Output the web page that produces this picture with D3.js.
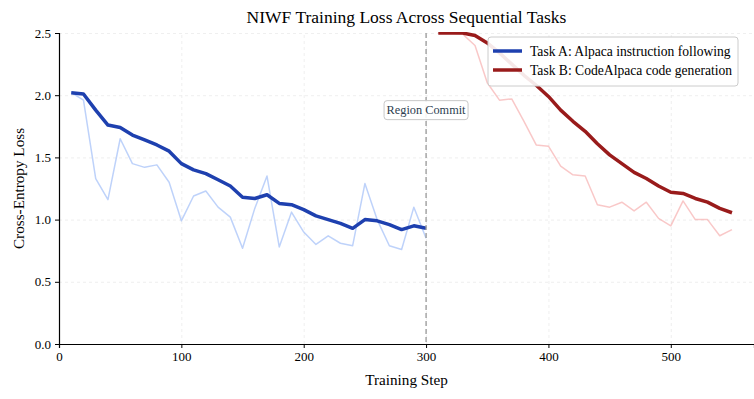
<!DOCTYPE html>
<html>
<head>
<meta charset="utf-8">
<script src="https://cdn.jsdelivr.net/npm/d3@7"></script>
<style>
  body { margin: 0; background: #fff; }
  text { font-family: "Liberation Serif", "Times New Roman", serif; }
  .grid line { stroke: #ebebeb; stroke-dasharray: 3,3; stroke-width: 0.8; }
  .grid path { display: none; }
</style>
</head>
<body>
<div id="chart"></div>
<script>
// 1: DATA
const stepsA = [10, 20, 30, 40, 50, 60, 70, 80, 90, 100, 110, 120, 130, 140, 150,
    160, 170, 180, 190, 200, 210, 220, 230, 240, 250, 260, 270, 280, 290, 300];
const rawA = [2.02, 1.96, 1.33, 1.16, 1.65, 1.45, 1.42, 1.44, 1.30, 0.99, 1.19, 1.23, 1.10, 1.02, 0.77,
    1.09, 1.35, 0.78, 1.06, 0.90, 0.80, 0.87, 0.81, 0.79, 1.29, 1.00, 0.79, 0.76, 1.10, 0.85];
const smoothA = [2.02, 2.01, 1.88, 1.76, 1.74, 1.68, 1.64, 1.60, 1.55, 1.45, 1.40, 1.37, 1.32, 1.27, 1.18,
    1.17, 1.20, 1.13, 1.12, 1.08, 1.03, 1.00, 0.97, 0.93, 1.00, 0.99, 0.96, 0.92, 0.95, 0.93];

const stepsB = [310, 320, 330, 340, 350, 360, 370, 380, 390, 400, 410, 420, 430,
    440, 450, 460, 470, 480, 490, 500, 510, 520, 530, 540, 550];
const rawB = [2.5, 2.5, 2.49, 2.40, 2.10, 1.96, 1.97, 1.79, 1.60, 1.59, 1.43, 1.36, 1.35,
    1.12, 1.10, 1.14, 1.07, 1.14, 1.01, 0.95, 1.15, 1.00, 1.00, 0.87, 0.92];
const smoothB = [2.5, 2.5, 2.5, 2.48, 2.42, 2.34, 2.25, 2.16, 2.08, 1.99, 1.88, 1.79, 1.71,
    1.61, 1.52, 1.45, 1.38, 1.33, 1.27, 1.22, 1.21, 1.17, 1.14, 1.09, 1.055];

const xTicks = [0, 100, 200, 300, 400, 500];
const yTicks = [0.0, 0.5, 1.0, 1.5, 2.0, 2.5];
const legendLabels = ["Task A: Alpaca instruction following", "Task B: CodeAlpaca code generation"];
const commitStep = 300;
const commitLabelY = 1.88;

// 2: SETUP
const margin = { top: 33, right: 0, bottom: 55, left: 59 };
const width = 754 - margin.left - margin.right;
const height = 399 - margin.top - margin.bottom;

const colA = "#1e40af", colARaw = "#93b4f7";
const colB = "#991b1b", colBRaw = "#f5a3a3";

const svg = d3.select("#chart")
    .append("svg")
    .attr("width", 754)
    .attr("height", 399)
    .append("g")
    .attr("transform", `translate(${margin.left},${margin.top})`);

svg.append("defs").append("clipPath")
    .attr("id", "clip")
    .append("rect")
    .attr("x", 0).attr("y", -1)
    .attr("width", width).attr("height", height + 1);

const x = d3.scaleLinear().domain([0, 568]).range([0, width]);
const y = d3.scaleLinear().domain([0, 2.5]).range([height, 0]);

// 3: GRID
svg.append("g")
    .attr("class", "grid")
    .attr("transform", `translate(0,${height})`)
    .call(d3.axisBottom(x).tickValues(xTicks).tickSize(-height).tickFormat(""));
svg.append("g")
    .attr("class", "grid")
    .call(d3.axisLeft(y).tickValues(yTicks).tickSize(-width).tickFormat(""));

// 4: LINES
const line = d3.line()
    .x(d => x(d[0]))
    .y(d => y(d[1]));

const plot = svg.append("g").attr("clip-path", "url(#clip)");

function drawSeries(steps, vals, color, w, op) {
    plot.append("path")
        .datum(steps.map((s, i) => [s, vals[i]]))
        .attr("d", line)
        .attr("fill", "none")
        .attr("stroke", color)
        .attr("stroke-width", w)
        .attr("stroke-opacity", op)
        .attr("stroke-linejoin", "round");
}
drawSeries(stepsA, rawA, colARaw, 1.5, 0.6);
drawSeries(stepsB, rawB, colBRaw, 1.5, 0.6);
drawSeries(stepsA, smoothA, colA, 3.5, 1);
drawSeries(stepsB, smoothB, colB, 3.5, 1);

// commit line
svg.append("line")
    .attr("x1", x(commitStep)).attr("x2", x(commitStep))
    .attr("y1", 0).attr("y2", height)
    .attr("stroke", "#999")
    .attr("stroke-width", 1.3)
    .attr("stroke-dasharray", "5,3");

// 5: AXES
const xAxis = svg.append("g")
    .attr("transform", `translate(0,${height})`)
    .call(d3.axisBottom(x).tickValues(xTicks).tickSize(4).tickPadding(4).tickFormat(d3.format("d")));
const yAxis = svg.append("g")
    .call(d3.axisLeft(y).tickValues(yTicks).tickSize(4).tickPadding(4).tickFormat(d3.format(".1f")));
[xAxis, yAxis].forEach(a => {
    a.selectAll("text").style("font-size", "13px").attr("fill", "#000");
    a.selectAll("line").attr("stroke", "#000");
    a.select(".domain").attr("stroke", "#000").attr("stroke-width", 1.2);
});

// annotation
const ann = svg.append("g")
    .attr("transform", `translate(${x(commitStep)},${y(commitLabelY)})`);
ann.append("rect")
    .attr("x", -42).attr("y", -9.5)
    .attr("width", 84).attr("height", 19)
    .attr("rx", 3)
    .attr("fill", "#fff")
    .attr("fill-opacity", 0.9)
    .attr("stroke", "#c8c8c8");
ann.append("text")
    .attr("text-anchor", "middle")
    .attr("dy", "0.35em")
    .style("font-size", "12.3px")
    .attr("fill", "#2c3e50")
    .text("Region Commit");

// 6: LABELS
svg.append("text")
    .attr("text-anchor", "middle")
    .attr("x", width / 2)
    .attr("y", -10)
    .style("font-size", "17.5px")
    .text("NIWF Training Loss Across Sequential Tasks");

svg.append("text")
    .attr("text-anchor", "middle")
    .attr("x", width / 2)
    .attr("y", height + 41)
    .style("font-size", "15.2px")
    .text("Training Step");

svg.append("text")
    .attr("text-anchor", "middle")
    .attr("transform", "rotate(-90)")
    .attr("x", -height / 2)
    .attr("y", -35)
    .style("font-size", "15.2px")
    .text("Cross-Entropy Loss");

// 7: LEGEND
const legend = svg.append("g")
    .attr("transform", `translate(${488 - margin.left},${37 - margin.top})`);
legend.append("rect")
    .attr("width", 250).attr("height", 49)
    .attr("rx", 3)
    .attr("fill", "#fff")
    .attr("fill-opacity", 0.9)
    .attr("stroke", "#cccccc");
[colA, colB].forEach((c, i) => {
    const gy = 14 + i * 19;
    legend.append("line")
        .attr("x1", 5).attr("x2", 34)
        .attr("y1", gy).attr("y2", gy)
        .attr("stroke", c)
        .attr("stroke-width", 3.5);
    legend.append("text")
        .attr("x", 42).attr("y", gy)
        .attr("dy", "0.35em")
        .style("font-size", "13.6px")
        .text(legendLabels[i]);
});
</script>
</body>
</html>
